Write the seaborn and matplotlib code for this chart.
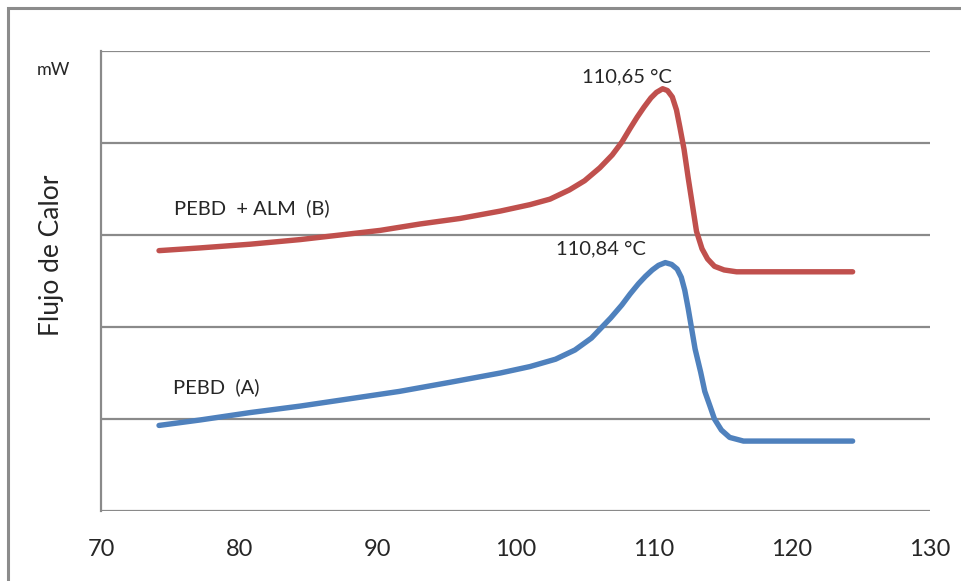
import matplotlib
matplotlib.use("Agg")
import matplotlib.pyplot as plt
import seaborn as sns
import pandas as pd
from matplotlib.patches import Rectangle

# DSC heat-flow curves (temperature in °C, heat flow in arbitrary mW units)
temp_b = [74.2, 77.2, 80.8, 84.4, 87.3, 90.2, 93.1, 96.0, 98.9, 101.05, 102.5,
          103.9, 105.0, 106.1, 107.0, 107.7, 108.3, 108.8, 109.3, 109.8, 110.2,
          110.65, 111.0, 111.35, 111.65, 111.9, 112.2, 112.5, 112.8, 113.1, 113.5,
          113.9, 114.4, 115.1, 116.0, 120.0, 124.4]
flow_b = [2.83, 2.86, 2.90, 2.95, 3.00, 3.05, 3.12, 3.18, 3.26, 3.33, 3.39,
          3.49, 3.59, 3.73, 3.87, 4.01, 4.16, 4.28, 4.39, 4.49, 4.55,
          4.59, 4.57, 4.50, 4.36, 4.17, 3.93, 3.62, 3.33, 3.04, 2.85,
          2.74, 2.66, 2.62, 2.60, 2.60, 2.60]

temp_a = [74.2, 77.2, 80.8, 84.4, 88.0, 91.6, 95.3, 98.9, 101.05, 102.9, 104.3,
          105.5, 106.2, 106.9, 107.7, 108.3, 108.9, 109.4, 109.9, 110.35, 110.84,
          111.3, 111.7, 112.0, 112.25, 112.5, 112.75, 113.0, 113.4, 113.7, 114.1,
          114.4, 114.9, 115.5, 116.5, 120.0, 124.4]
flow_a = [0.93, 0.99, 1.07, 1.14, 1.22, 1.30, 1.40, 1.50, 1.57, 1.65, 1.75,
          1.88, 1.99, 2.10, 2.24, 2.36, 2.47, 2.55, 2.62, 2.67, 2.70,
          2.68, 2.63, 2.54, 2.40, 2.20, 1.98, 1.76, 1.51, 1.30, 1.13,
          1.00, 0.88, 0.80, 0.76, 0.76, 0.76]

series_b = "PEBD  + ALM  (B)"
series_a = "PEBD  (A)"
peak_b = "110,65 °C"
peak_a = "110,84 °C"

x_ticks = [70, 80, 90, 100, 110, 120, 130]
y_grid = [0, 1, 2, 3, 4, 5]

df = pd.concat([
    pd.DataFrame({"T": temp_b, "Q": flow_b, "serie": series_b}),
    pd.DataFrame({"T": temp_a, "Q": flow_a, "serie": series_a}),
])

sns.set_style("white")
plt.rcParams["font.family"] = ["Lato", "DejaVu Sans"]

fig = plt.figure(figsize=(9.62, 5.81), dpi=100)
ax = fig.add_axes([101 / 962, 70 / 581, 829 / 962, 460 / 581])

palette = {series_b: "#C0504D", series_a: "#4F81BD"}
sns.lineplot(data=df, x="T", y="Q", hue="serie", palette=palette, sort=False,
             linewidth=3.9, legend=False, ax=ax, zorder=3,
             solid_capstyle="round", solid_joinstyle="round")

ax.set_xlim(70, 130)
ax.set_ylim(0, 5)
ax.set_xticks(x_ticks)
ax.set_xticklabels([str(t) for t in x_ticks], fontsize=17)
ax.set_yticks(y_grid)
ax.set_yticklabels([])
ax.tick_params(axis="both", length=0)
ax.tick_params(axis="x", pad=20)
ax.set_xlabel("")
ax.set_ylabel("")

grid_col = "#8a8a8a"
for yv in y_grid:
    ax.axhline(yv, color=grid_col, linewidth=1.6, zorder=1)
for side in ["top", "right", "bottom"]:
    ax.spines[side].set_visible(False)
ax.spines["left"].set_color(grid_col)
ax.spines["left"].set_linewidth(1.6)

# Labels inside the plot
ax.text(108.1, 4.72, peak_b, ha="center", va="center", fontsize=14.5)
ax.text(106.2, 2.85, peak_a, ha="center", va="center", fontsize=14.5)
ax.text(75.3, 3.29, series_b, ha="left", va="center", fontsize=14.5)
ax.text(75.2, 1.35, series_a, ha="left", va="center", fontsize=14.5)

# Axis annotations outside the plot area
fig.text(53 / 962, 1 - 70 / 581, "mW", ha="center", va="center", fontsize=13)
fig.text(52 / 962, 1 - 255 / 581, "Flujo de Calor", ha="center", va="center",
         rotation=90, fontsize=19)

# Chart-area frame (top and left edges)
fig.patches.append(Rectangle((8 / 962, -0.1), 1.2, 1 - 8 / 581 + 0.1,
                             transform=fig.transFigure, fill=False,
                             edgecolor="#8c8c8c", linewidth=2.2))

fig.savefig("out.png", dpi=100, facecolor="white")
